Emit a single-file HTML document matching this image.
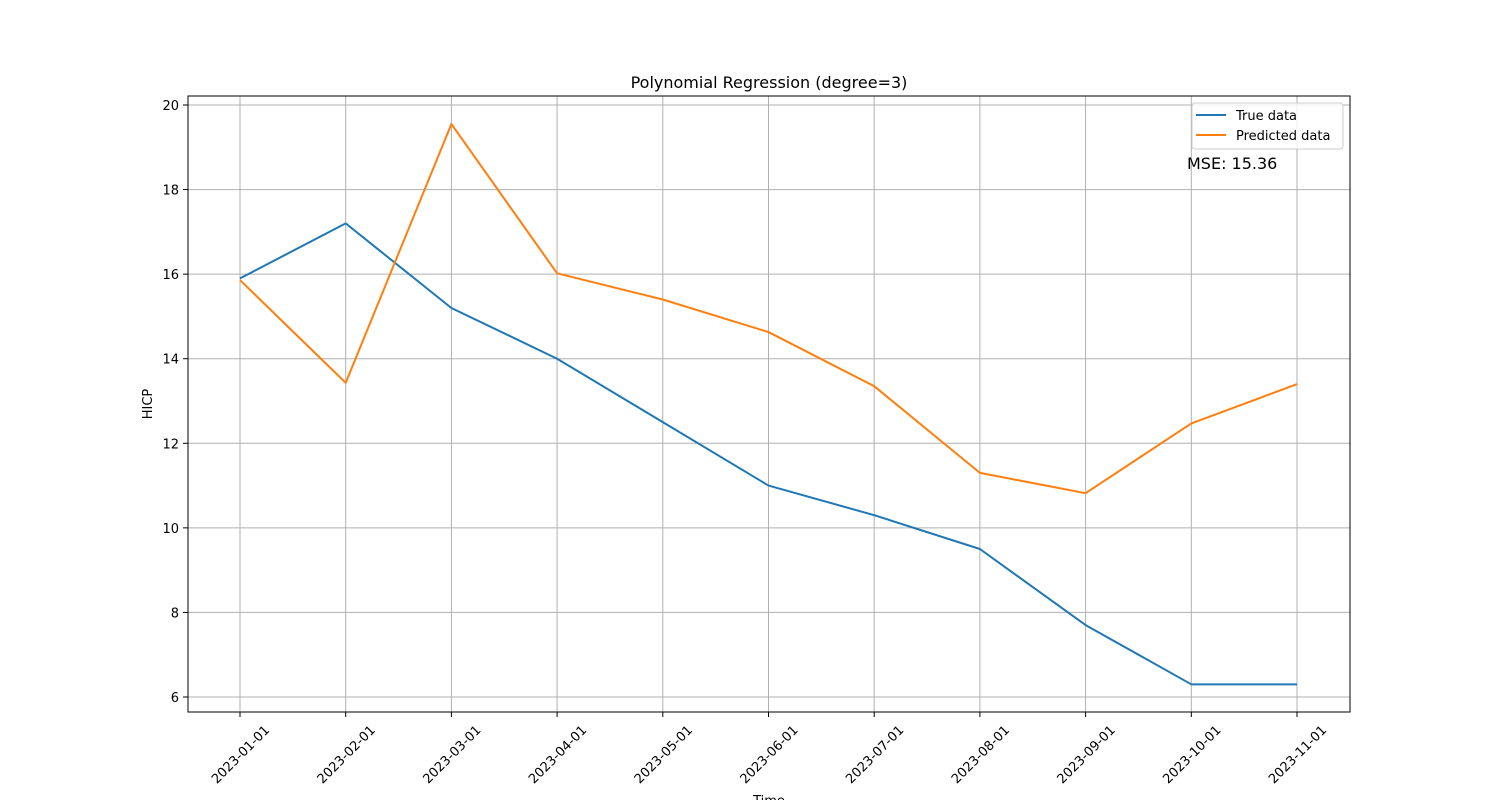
<!DOCTYPE html>
<html><head><meta charset="utf-8"><style>body{margin:0;background:#fff}svg{display:block;font-family:"DejaVu Sans","Liberation Sans",sans-serif}</style></head>
<body>
<svg id="chart" width="1500" height="800" viewBox="0 0 1500 800" xmlns="http://www.w3.org/2000/svg">
<g id="grid"></g>
<g id="lines"></g>
<rect x="188" y="96" width="1162" height="616" fill="none" stroke="#000" stroke-width="1"/>
<g id="ticks"></g>
<text x="769" y="88" font-size="16" text-anchor="middle">Polynomial Regression (degree=3)</text>
<text x="152" y="404" font-size="13" text-anchor="middle" transform="rotate(-90 152 404)">HICP</text>
<text x="769" y="805" font-size="13" text-anchor="middle">Time</text>
<g>
<rect x="1192" y="103" width="151" height="46" rx="3" fill="#fff" fill-opacity="0.8" stroke="#ccc"/>
<line x1="1196" y1="115" x2="1226" y2="115" stroke="#1f77b4" stroke-width="2"/>
<text x="1236" y="120" font-size="13">True data</text>
<line x1="1196" y1="135" x2="1226" y2="135" stroke="#ff7f0e" stroke-width="2"/>
<text x="1236" y="140" font-size="13">Predicted data</text>
</g>
<text x="1187" y="169" font-size="16">MSE: 15.36</text>
</svg>
<script>
const categories=["2023-01-01","2023-02-01","2023-03-01","2023-04-01","2023-05-01","2023-06-01","2023-07-01","2023-08-01","2023-09-01","2023-10-01","2023-11-01"];
const trueData=[15.9,17.2,15.2,14.0,12.5,11.0,10.3,9.5,7.7,6.3,6.3];
const predictedData=[15.86,13.43,19.55,16.02,15.4,14.63,13.35,11.3,10.82,12.47,13.4];
const yTicks=[6,8,10,12,14,16,18,20];
const NS="http://www.w3.org/2000/svg";
const x=i=>240+i*(1297-240)/10;
const y=v=>697-(v-6)*(697-105)/14;
function mk(t,a,p){const e=document.createElementNS(NS,t);for(const k in a)e.setAttribute(k,a[k]);p.appendChild(e);return e;}
const grid=document.getElementById('grid'),ticks=document.getElementById('ticks'),lines=document.getElementById('lines');
categories.forEach((c,i)=>{
 const g=mk('line',{x1:x(i),x2:x(i),y1:96,y2:712,stroke:'#b0b0b0','stroke-width':1},grid);
 
 
 mk('line',{x1:x(i),x2:x(i),y1:712,y2:717,stroke:'#000'},ticks);
 const t=mk('text',{x:x(i),y:759,'font-size':13,'text-anchor':'middle',transform:`rotate(-45 ${x(i)} 754)`},ticks);
 t.textContent=c;
 
 
});
yTicks.forEach(v=>{
 const g=mk('line',{x1:188,x2:1350,y1:y(v),y2:y(v),stroke:'#b0b0b0','stroke-width':1},grid);
 
 
 mk('line',{x1:183,x2:188,y1:y(v),y2:y(v),stroke:'#000'},ticks);
 const t=mk('text',{x:179,y:y(v)+5,'font-size':13,'text-anchor':'end'},ticks);
 t.textContent=v;
 
 
});
function series(d,color,name){
 const p=mk('polyline',{points:d.map((v,i)=>x(i)+','+y(v)).join(' '),fill:'none',stroke:color,'stroke-width':2,'stroke-linejoin':'round'},lines);
 
 
}
series(trueData,'#1f77b4','true-data-line');
series(predictedData,'#ff7f0e','predicted-data-line');
</script>
</body></html>
